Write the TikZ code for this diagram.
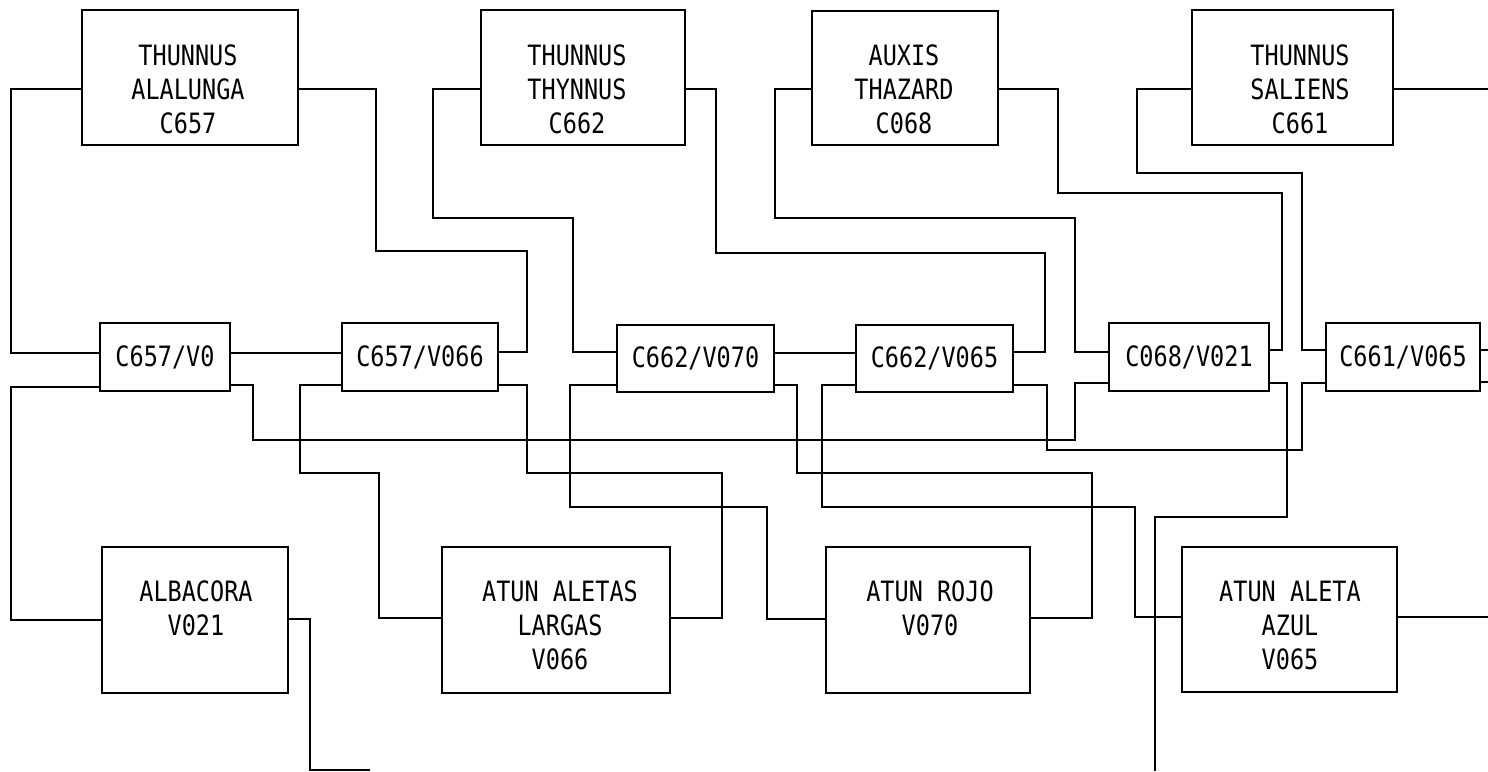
\documentclass[tikz,border=0pt]{standalone}
\usepackage{fontspec}
\newfontfamily\lblfont[FakeStretch=0.84]{DejaVu Sans Mono}
\begin{document}
\begin{tikzpicture}[x=1pt,y=-1pt,
  wire/.style={line width=1.3pt},
  bx/.style={draw, line width=1.3pt, inner sep=0pt, font=\lblfont\fontsize{28}{34}\selectfont, align=center},
  lbl/.style={inner sep=0pt, font=\lblfont\fontsize{28}{34}\selectfont, align=center}]
\useasboundingbox[fill=white] (0,0) rectangle (1488,771);

% top boxes
\node[bx, minimum width=216pt, minimum height=135pt] (t1) at (190,77.5) {};
\node[bx, minimum width=204pt, minimum height=135pt] (t2) at (583,77.5) {};
\node[bx, minimum width=186pt, minimum height=134pt] (t3) at (905,78) {};
\node[bx, minimum width=201pt, minimum height=135pt] (t4) at (1292.5,77.5) {};
\node[lbl] (t1l) at (188,89) {THUNNUS\\ALALUNGA\\C657};
\node[lbl] (t2l) at (577,89) {THUNNUS\\THYNNUS\\C662};
\node[lbl] (t3l) at (904,89) {AUXIS\\THAZARD\\C068};
\node[lbl] (t4l) at (1300,89) {THUNNUS\\SALIENS\\C661};

% middle boxes
\node[bx, minimum width=130pt, minimum height=68pt] (m1) at (165,357) {C657/V0};
\node[bx, minimum width=156pt, minimum height=68pt] (m2) at (420,357) {C657/V066};
\node[bx, minimum width=157pt, minimum height=67pt] (m3) at (695.5,358.5) {C662/V070};
\node[bx, minimum width=157pt, minimum height=67pt] (m4) at (934.5,358.5) {C662/V065};
\node[bx, minimum width=160pt, minimum height=68pt] (m5) at (1189,357) {C068/V021};
\node[bx, minimum width=154pt, minimum height=68pt] (m6) at (1403,357) {C661/V065};

% bottom boxes
\node[bx, minimum width=186pt, minimum height=146pt] (b1) at (195,620) {};
\node[bx, minimum width=228pt, minimum height=146pt] (b2) at (556,620) {};
\node[bx, minimum width=204pt, minimum height=146pt] (b3) at (928,620) {};
\node[bx, minimum width=215pt, minimum height=145pt] (b4) at (1289.5,619.5) {};
\node[lbl] (b1l) at (196,608) {ALBACORA\\V021};
\node[lbl] (b2l) at (560,625) {ATUN ALETAS\\LARGAS\\V066};
\node[lbl] (b3l) at (930,608) {ATUN ROJO\\V070};
\node[lbl] (b4l) at (1290,625) {ATUN ALETA\\AZUL\\V065};

% free ends
\coordinate (eT4) at (1488,89);
\coordinate (eM6a) at (1488,350);
\coordinate (eM6b) at (1488,382);
\coordinate (eB1) at (370,770);
\coordinate (eM5) at (1155,771);
\coordinate (eB4) at (1488,617);

% top to middle
\draw[wire] (t1.west |- 0,89) -| (11,353) -- (m1.west |- 0,353);
\draw[wire] (t1.east |- 0,89) -| (376,251) -| (527,352) -- (m2.east |- 0,352);
\draw[wire] (t2.west |- 0,89) -| (433,218) -| (573,352) -- (m3.west |- 0,352);
\draw[wire] (t2.east |- 0,89) -| (716,253) -| (1045,352) -- (m4.east |- 0,352);
\draw[wire] (t3.west |- 0,89) -| (775,218) -| (1075,352) -- (m5.west |- 0,352);
\draw[wire] (t3.east |- 0,89) -| (1058,193) -| (1282,350) -- (m5.east |- 0,350);
\draw[wire] (t4.west |- 0,89) -| (1137,173) -| (1302,350) -- (m6.west |- 0,350);
\draw[wire] (t4.east |- 0,89) -- (eT4);

% middle to middle
\draw[wire] (m1.east |- 0,353) -- (m2.west |- 0,353);
\draw[wire] (m3.east |- 0,353) -- (m4.west |- 0,353);
\draw[wire] (m1.east |- 0,385) -| (253,440) -| (1075,383) -- (m5.west |- 0,383);
\draw[wire] (m4.east |- 0,385) -| (1047,450) -| (1302,383) -- (m6.west |- 0,383);
\draw[wire] (m6.east |- 0,350) -- (eM6a);
\draw[wire] (m6.east |- 0,382) -- (eM6b);

% middle to bottom
\draw[wire] (m1.west |- 0,387) -| (11,620) -- (b1.west |- 0,620);
\draw[wire] (m2.west |- 0,385) -| (300,473) -| (379,618) -- (b2.west |- 0,618);
\draw[wire] (m2.east |- 0,385) -| (527,473) -| (722,618) -- (b2.east |- 0,618);
\draw[wire] (m3.west |- 0,385) -| (570,507) -| (767,619) -- (b3.west |- 0,619);
\draw[wire] (m3.east |- 0,385) -| (797,473) -| (1092,618) -- (b3.east |- 0,618);
\draw[wire] (m4.west |- 0,385) -| (822,507) -| (1135,617) -- (b4.west |- 0,617);
\draw[wire] (m5.east |- 0,383) -| (1287,517) -| (eM5);

% bottom free ends
\draw[wire] (b1.east |- 0,619) -| (310,770) -- (eB1);
\draw[wire] (b4.east |- 0,617) -- (eB4);
\end{tikzpicture}
\end{document}
